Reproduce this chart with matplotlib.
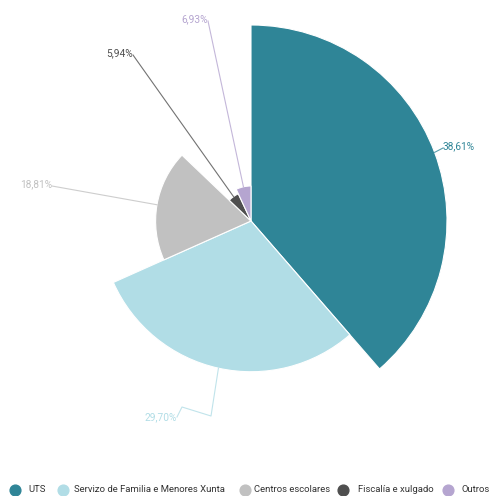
import numpy as np
import matplotlib.pyplot as plt
from matplotlib.patches import Wedge

plt.rcParams['font.family'] = ['Roboto', 'DejaVu Sans']

categories = ['UTS', 'Servizo de Familia e Menores Xunta', 'Centros escolares',
              'Fiscalía e xulgado', 'Outros']
values = [38.61, 29.70, 18.81, 5.94, 6.93]
colors = ['#2f8597', '#b1dde6', '#c1c1c1', '#4f4f4f', '#b5a5d0']
label_colors = ['#2f8597', '#b1dde6', '#c1c1c1', '#4f4f4f', '#b5a5d0']

# pixel layout (y grows downwards)
cx, cy = 251, 221
r_min, r_max = 30, 196
label_pos = [(443, 146), (177, 417), (52, 184), (133, 53), (208, 19)]
label_ha = ['left', 'right', 'right', 'right', 'right']

fig = plt.figure(figsize=(4.92, 4.96), dpi=100)
ax = fig.add_axes([0, 0, 1, 1])
ax.set_xlim(0, 492)
ax.set_ylim(496, 0)
ax.axis('off')

vals = np.array(values)
total = vals.sum()
cum = np.concatenate([[0], np.cumsum(vals)]) / total * 360
radii = r_min + (vals - vals.min()) / (vals.max() - vals.min()) * (r_max - r_min)

for i, v in enumerate(values):
    t1 = -90 + cum[i]
    t2 = -90 + cum[i + 1]
    ax.add_patch(Wedge((cx, cy), radii[i], t1, t2, facecolor=colors[i],
                       edgecolor='white', linewidth=0.8))
    mid = np.deg2rad((t1 + t2) / 2)
    px = cx + radii[i] * np.cos(mid)
    py = cy + radii[i] * np.sin(mid)
    lx, ly = label_pos[i]
    if i == 1:
        # crooked connector below the pie
        xs = [px, 211, 182, lx]
        ys = [py, 416, 407, ly]
    else:
        xs = [px, lx]
        ys = [py, ly + 2]
    ax.plot(xs, ys, color=label_colors[i], lw=0.8, alpha=0.8)
    txt = f'{v:.2f}'.replace('.', ',') + '%'
    ax.text(lx, ly, txt, color=label_colors[i], fontsize=7.3,
            ha=label_ha[i], va='center')

# legend along the bottom
marker_x = [15, 63, 245, 343, 448]
text_x = [28, 74, 254, 358, 462]
for i, name in enumerate(categories):
    ax.scatter(marker_x[i], 490, s=60, color=colors[i], zorder=3)
    ax.text(text_x[i], 490, name, fontsize=6.8, color='#333333',
            ha='left', va='center')

fig.savefig('out.png', dpi=100)
